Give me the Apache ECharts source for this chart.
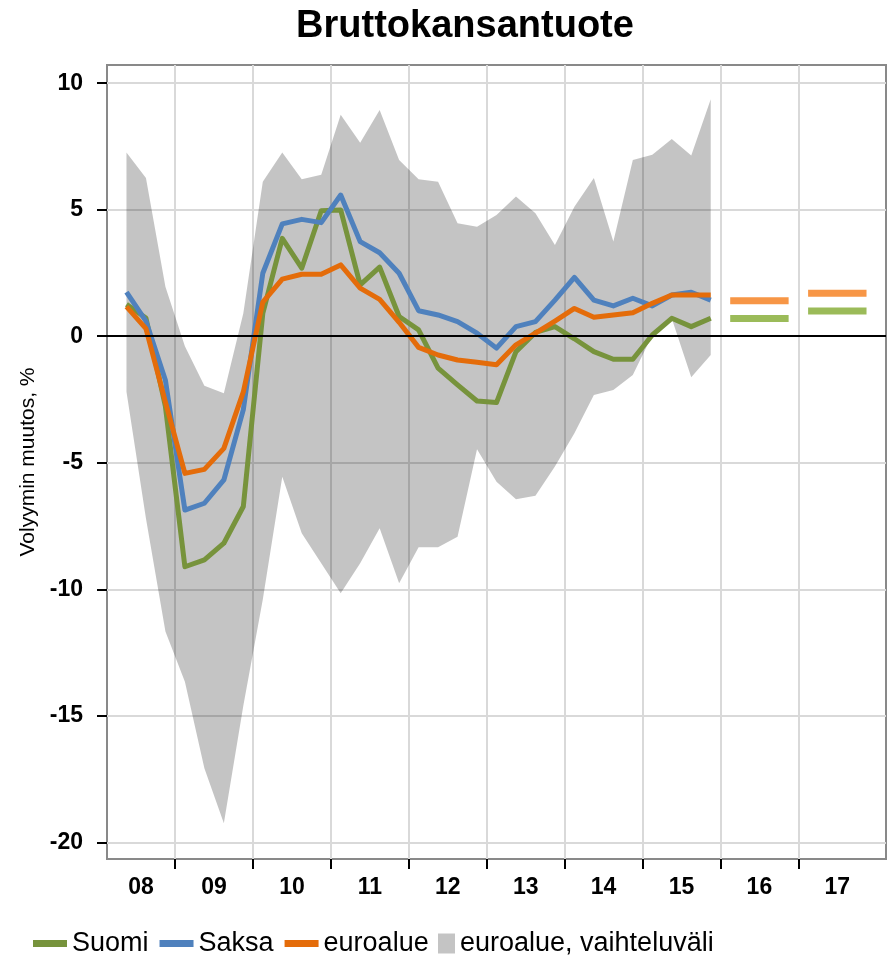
<!DOCTYPE html>
<html>

<head>
  <meta charset="utf-8">
  <title>Bruttokansantuote</title>
  <script src="https://cdn.jsdelivr.net/npm/echarts@6/dist/echarts.min.js"></script>
  <style>
    html, body {
      margin: 0;
      padding: 0;
      background: #fff;
    }

    #chart {
      width: 891px;
      height: 957px;
    }
  </style>
</head>

<body>
  <div id="chart"></div>
  <script>
    // neljännekset 08Q2 - 15Q4
    var quarters = ['08Q2', '08Q3', '08Q4', '09Q1', '09Q2', '09Q3', '09Q4', '10Q1', '10Q2', '10Q3', '10Q4',
      '11Q1', '11Q2', '11Q3', '11Q4', '12Q1', '12Q2', '12Q3', '12Q4', '13Q1', '13Q2', '13Q3', '13Q4',
      '14Q1', '14Q2', '14Q3', '14Q4', '15Q1', '15Q2', '15Q3', '15Q4'];

    var suomi = [1.26, 0.72, -2.78, -9.11, -8.84, -8.18, -6.73, 0.9, 3.87, 2.69, 4.96, 4.99, 2.03, 2.73, 0.78,
      0.25, -1.26, -1.92, -2.56, -2.62, -0.61, 0.15, 0.38, -0.1, -0.61, -0.91, -0.91, 0.05, 0.71, 0.38, 0.71];
    var saksa = [1.74, 0.6, -1.74, -6.87, -6.6, -5.68, -2.9, 2.49, 4.44, 4.62, 4.49, 5.58, 3.74, 3.3, 2.49,
      1.01, 0.84, 0.58, 0.12, -0.47, 0.38, 0.58, 1.43, 2.33, 1.43, 1.2, 1.5, 1.2, 1.63, 1.74, 1.43];
    var euroalue = [1.17, 0.3, -2.6, -5.42, -5.26, -4.43, -2.2, 1.35, 2.26, 2.45, 2.45, 2.82, 1.9, 1.46, 0.55,
      -0.44, -0.74, -0.94, -1.03, -1.13, -0.34, 0.12, 0.6, 1.1, 0.75, 0.84, 0.93, 1.3, 1.63, 1.63, 1.63];
    // vaihteluväli (ylä- ja alaraja)
    var bandHigh = [7.26, 6.25, 1.96, -0.4, -1.96, -2.25, 0.91, 6.11, 7.26, 6.2, 6.38, 8.75, 7.65, 8.94, 6.97,
      6.2, 6.11, 4.47, 4.33, 4.79, 5.52, 4.86, 3.61, 5.12, 6.25, 3.74, 6.97, 7.17, 7.8, 7.14, 9.37];
    var bandLow = [-2.19, -7.2, -11.67, -13.65, -17.07, -19.25, -14.6, -10.4, -5.55, -7.79, -8.97, -10.16, -8.97,
      -7.59, -9.76, -8.34, -8.34, -7.92, -4.47, -5.75, -6.44, -6.3, -5.15, -3.83, -2.32, -2.12, -1.53, 0.05,
      0.7, -1.62, -0.74];

    // ennusteet
    var fcYears = ['16', '17'];
    var fcEuro = [1.4, 1.7];
    var fcSuomi = [0.7, 1.0];

    var years = ['08', '09', '10', '11', '12', '13', '14', '15', '16', '17'];
    var yTicks = [-20, -15, -10, -5, 0, 5, 10];

    var xMin = 0.5, xMax = 40.5;

    // neljänneksen keskikohta neljännesyksiköissä vuoden 2008 alusta
    function qPos(q) {
      return (parseInt(q.slice(0, 2), 10) - 8) * 4 + parseInt(q.charAt(3), 10) - 0.5;
    }

    var xs = quarters.map(qPos);

    function pairs(vals) {
      return vals.map(function (v, i) { return [xs[i], v]; });
    }

    function fcData(vals) {
      var out = [];
      fcYears.forEach(function (y, k) {
        var s = (parseInt(y, 10) - 8) * 4;
        out.push([s + 0.5, vals[k]]);
        out.push([s + 3.5, vals[k]]);
        out.push([s + 4, null]);
      });
      return out;
    }

    var yearBounds = [];
    for (var k = 1; k < years.length; k++) yearBounds.push(k * 4);
    var labelPos = years.map(function (y, k) {
      var a = Math.max(k * 4, xMin), b = Math.min(k * 4 + 4, xMax);
      return (a + b) / 2;
    });

    var bandColor = 'rgba(0,0,0,0.23)';
    var font = 'Liberation Sans, Arial, sans-serif';

    var chart = echarts.init(document.getElementById('chart'));

    var option = {
      backgroundColor: '#fff',
      animation: false,
      textStyle: { fontFamily: font },
      title: {
        text: 'Bruttokansantuote',
        left: 460,
        top: 3,
        textAlign: 'center',
        textStyle: { fontSize: 38, fontWeight: 'bold', color: '#000', fontFamily: font }
      },
      legend: [{
        data: ['Suomi', 'Saksa', 'euroalue'],
        left: 28,
        top: 925,
        icon: 'rect',
        itemWidth: 34,
        itemHeight: 7,
        itemGap: 11,
        textStyle: { fontSize: 27, color: '#000', fontFamily: font }
      }, {
        data: ['euroalue, vaihteluväli'],
        left: 433,
        top: 925,
        icon: 'rect',
        itemWidth: 17,
        itemHeight: 20,
        textStyle: { fontSize: 27, color: '#000', fontFamily: font }
      }],
      grid: {
        left: 107,
        right: 5,
        top: 65,
        bottom: 98,
        show: true,
        borderColor: '#898989',
        borderWidth: 2,
        outerBoundsMode: 'none'
      },
      xAxis: {
        type: 'value',
        min: xMin,
        max: xMax,
        axisLine: { show: false, onZero: false },
        axisTick: {
          show: true,
          length: 10,
          customValues: yearBounds,
          lineStyle: { color: '#000', width: 2 }
        },
        axisLabel: {
          customValues: labelPos,
          margin: 17,
          fontSize: 23,
          fontWeight: 'bold',
          color: '#000',
          fontFamily: font,
          formatter: function (v) {
            var best = 0;
            labelPos.forEach(function (p, i) {
              if (Math.abs(p - v) < Math.abs(labelPos[best] - v)) best = i;
            });
            return years[best];
          }
        },
        splitLine: { show: true, lineStyle: { color: '#D9D9D9', width: 2 } }
      },
      yAxis: {
        type: 'value',
        min: -20.66,
        max: 10.72,
        name: 'Volyymin muutos, %',
        nameLocation: 'middle',
        nameRotate: 90,
        nameGap: 68,
        nameMoveOverlap: false,
        nameTextStyle: { fontSize: 21, color: '#000', fontFamily: font },
        axisLine: { show: false },
        axisTick: {
          show: true,
          length: 10,
          customValues: yTicks,
          lineStyle: { color: '#000', width: 2 }
        },
        axisLabel: {
          customValues: yTicks,
          margin: 24,
          fontSize: 23,
          fontWeight: 'bold',
          color: '#000',
          fontFamily: font
        },
        splitLine: { show: true, lineStyle: { color: '#D9D9D9', width: 2 } }
      },
      series: [
        {
          name: 'euroalue, vaihteluväli',
          type: 'custom',
          z: 1,
          data: xs.map(function (x, i) { return [x, bandLow[i], bandHigh[i]]; }),
          encode: { x: 0, y: [1, 2] },
          itemStyle: { color: bandColor },
          renderItem: function (params, api) {
            if (params.dataIndex !== 0) return null;
            var pts = [];
            for (var i = 0; i < xs.length; i++) pts.push(api.coord([xs[i], bandHigh[i]]));
            for (var j = xs.length - 1; j >= 0; j--) pts.push(api.coord([xs[j], bandLow[j]]));
            return {
              type: 'polygon',
              shape: { points: pts },
              style: { fill: bandColor, stroke: null }
            };
          }
        },
        {
          name: 'nolla',
          type: 'line',
          z: 2,
          data: [],
          markLine: {
            silent: true,
            symbol: 'none',
            label: { show: false },
            lineStyle: { color: '#000', width: 2, type: 'solid' },
            data: [{ yAxis: 0 }]
          }
        },
        {
          name: 'Suomi',
          type: 'line',
          z: 3,
          data: pairs(suomi),
          symbol: 'none',
          color: '#77933C',
          lineStyle: { width: 5, color: '#77933C', join: 'round' }
        },
        {
          name: 'Saksa',
          type: 'line',
          z: 3,
          data: pairs(saksa),
          symbol: 'none',
          color: '#4F81BD',
          lineStyle: { width: 5, color: '#4F81BD', join: 'round' }
        },
        {
          name: 'euroalue',
          type: 'line',
          z: 4,
          data: pairs(euroalue),
          symbol: 'none',
          color: '#E46C0A',
          lineStyle: { width: 5, color: '#E46C0A', join: 'round' }
        },
        {
          name: 'euroalue ennuste',
          type: 'line',
          z: 3,
          data: fcData(fcEuro),
          symbol: 'none',
          connectNulls: false,
          lineStyle: { width: 7, color: '#F79646', cap: 'butt' }
        },
        {
          name: 'Suomi ennuste',
          type: 'line',
          z: 3,
          data: fcData(fcSuomi),
          symbol: 'none',
          connectNulls: false,
          lineStyle: { width: 7, color: '#9BBB59', cap: 'butt' }
        }
      ]
    };

    chart.setOption(option);
  </script>
</body>

</html>
